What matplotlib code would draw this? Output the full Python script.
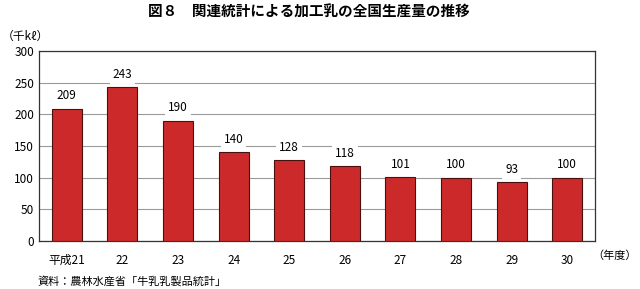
import matplotlib
matplotlib.use("Agg")
import matplotlib.pyplot as plt

plt.rcParams['font.family'] = ['Noto Sans CJK JP', 'DejaVu Sans']

years = ["平成21", "22", "23", "24", "25", "26", "27", "28", "29", "30"]
production = [209, 243, 190, 140, 128, 118, 101, 100, 93, 100]
yticks = [0, 50, 100, 150, 200, 250, 300]

fig = plt.figure(figsize=(6.4, 2.89), dpi=100)
ax = fig.add_axes([39 / 640, 1 - 241 / 289, (595 - 39) / 640, (241 - 51) / 289])

x = range(len(years))
ax.bar(x, production, width=0.54, color="#cc2a2a", edgecolor="#4a1010", linewidth=0.8, zorder=3)
for xi, v in zip(x, production):
    ax.text(xi, v + 10, str(v), ha="center", va="bottom", fontsize=8.5, zorder=4,
            bbox=dict(facecolor="white", edgecolor="none", pad=2))

ax.set_xlim(-0.5, len(years) - 0.5)
ax.set_ylim(0, 300)
ax.set_yticks(yticks)
ax.set_xticks(list(x))
ax.set_xticklabels(years)
ax.tick_params(axis="both", length=0, labelsize=8.5)
ax.tick_params(axis="x", pad=9)
ax.grid(axis="y", color="#9a9a9a", linewidth=0.8, zorder=0)
for s in ax.spines.values():
    s.set_color("#333333")
    s.set_linewidth(0.9)

fig.text(309 / 640, 1 - 12 / 289, "図８　関連統計による加工乳の全国生産量の推移", ha="center", va="center",
         fontsize=10.5, fontweight="bold")
fig.text(2 / 640, 1 - 36 / 289, "（千kℓ）", ha="left", va="center", fontsize=8.5)
fig.text(637 / 640, 1 - 256 / 289, "（年度）", ha="right", va="center", fontsize=8)
fig.text(38 / 640, 1 - 281 / 289, "資料：農林水産省「牛乳乳製品統計」", ha="left", va="center", fontsize=8)

fig.savefig("out.png", dpi=100)
